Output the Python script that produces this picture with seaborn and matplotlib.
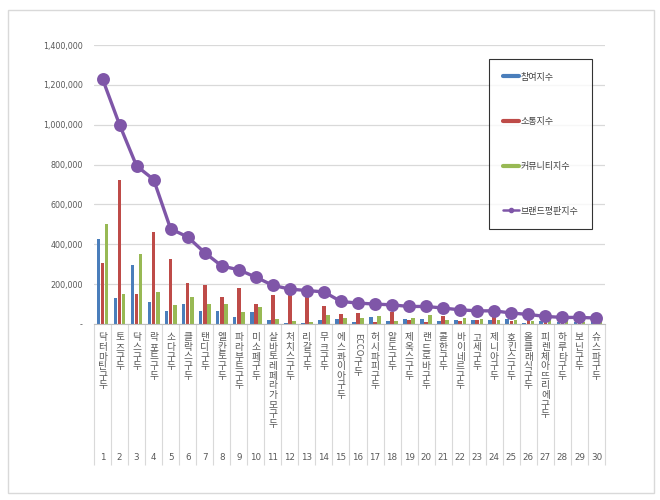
import matplotlib
matplotlib.use("Agg")
import matplotlib.pyplot as plt
import matplotlib.transforms as mtransforms
from matplotlib.lines import Line2D
from matplotlib.patches import Rectangle
import seaborn as sns
import pandas as pd
import numpy as np

sns.set_theme(style="white")
plt.rcParams['font.family'] = ['Noto Sans CJK KR', 'DejaVu Sans']

brands = ["닥터마틴 구두", "토즈 구두", "닥스 구두", "락포트 구두", "소다 구두",
          "클락스 구두", "탠디 구두", "엘칸토 구두", "파라부트 구두", "미소페 구두",
          "살바토레페라가모 구두", "처치스 구두", "리갈 구두", "무크 구두", "에스콰이아 구두",
          "ECCO 구두", "허시파피 구두", "알도 구두", "제옥스 구두", "랜드로바 구두",
          "콜한 구두", "바이네르 구두", "고세 구두", "제니아 구두", "호킨스 구두",
          "올클래식 구두", "피렌체아뜨리에 구두", "하루타 구두", "보닌 구두", "슈스파 구두"]
ranks = [str(i) for i in range(1, 31)]

participation = [425000, 128000, 298000, 112000, 65000, 100000, 65000, 65000, 35000, 58000,
                 22000, 5000, 5000, 18000, 23000, 12000, 35000, 13000, 27000, 23000,
                 15000, 22000, 22000, 22000, 25000, 5000, 15000, 10000, 12000, 10000]
communication = [308000, 725000, 150000, 462000, 328000, 205000, 198000, 137000, 180000, 98000,
                 148000, 160000, 158000, 88000, 52000, 57000, 12000, 62000, 20000, 8000,
                 38000, 17000, 18000, 33000, 17000, 33000, 10000, 10000, 8000, 8000]
community = [500000, 150000, 350000, 160000, 95000, 133000, 98000, 98000, 60000, 85000,
             24000, 13000, 10000, 47000, 30000, 30000, 42000, 13000, 30000, 47000,
             22000, 28000, 25000, 18000, 22000, 17000, 20000, 15000, 12000, 12000]
brand_index = [1230000, 1000000, 793000, 725000, 477000, 437000, 358000, 291000, 272000, 235000,
               194000, 175000, 168000, 161000, 113000, 105000, 100000, 96000, 88000, 88000,
               80000, 71000, 66000, 66000, 55000, 48000, 38000, 33000, 33000, 30000]

series_names = ["참여지수", "소통지수", "커뮤니티지수", "브랜드평판지수"]
colors = ["#4A7EBB", "#BE4B48", "#98B954", "#7F56A8"]


def stack(s):
    return "\n".join(ch for ch in s if ch != " ")


df = pd.DataFrame({
    "brand": brands * 3,
    "series": [series_names[0]] * 30 + [series_names[1]] * 30 + [series_names[2]] * 30,
    "value": participation + communication + community,
})

fig = plt.figure(figsize=(6.6, 5.0), dpi=100)
fig.patches.append(Rectangle((8 / 660, 1 - 493 / 500), 646 / 660, 483 / 500,
                             transform=fig.transFigure, fill=False,
                             edgecolor="#D9D9D9", linewidth=1.0))
ax = fig.add_axes([94 / 660, 1 - 324 / 500, 511 / 660, 279 / 500])

sns.barplot(data=df, x="brand", y="value", hue="series", order=brands,
            hue_order=series_names[:3], palette=colors[:3], width=0.72,
            gap=0.12, ax=ax, legend=False, saturation=1, edgecolor="none")

sns.pointplot(x=brands, y=brand_index, order=brands, color=colors[3], ax=ax,
              markers="o", markersize=7.5, linewidth=2.4, errorbar=None)

ax.set_ylim(0, 1400000)
ax.set_xlim(-0.5, 29.5)
yt = np.arange(0, 1400001, 200000)
ax.set_yticks(yt)
ax.set_yticklabels(["-" if v == 0 else f"{v:,}" for v in yt], fontsize=5.8,
                   color="#595959", family=["DejaVu Sans"])
ax.yaxis.grid(True, color="#D9D9D9", linewidth=0.9)
ax.set_axisbelow(True)
ax.tick_params(axis="y", length=0, pad=8)

trans = mtransforms.blended_transform_factory(ax.transData, ax.transAxes)

ticklabels = []
for i, b in enumerate(brands):
    first, _, rest = b.partition(" ")
    if first.isascii():
        ticklabels.append("")
        ax.text(i, -(333 - 324) / 279, first, transform=trans, rotation=-90,
                ha="center", va="top", fontsize=6.5, color="#595959")
        ax.text(i, -(357 - 324) / 279, stack(rest), transform=trans,
                ha="center", va="top", fontsize=7, color="#595959", linespacing=0.95)
    else:
        ticklabels.append(stack(b))
ax.set_xticks(range(30))
ax.set_xticklabels(ticklabels, fontsize=7, color="#595959", linespacing=0.95, va="top")
ax.tick_params(axis="x", length=0, pad=6)
ax.set_xlabel("")
ax.set_ylabel("")

for sp in ["top", "right", "left"]:
    ax.spines[sp].set_visible(False)
ax.spines["bottom"].set_color("#BFBFBF")
ax.spines["bottom"].set_linewidth(0.8)

ax.vlines(np.arange(-0.5, 30, 1), -0.505, 0, transform=trans, colors="#D9D9D9",
          linewidth=0.8, clip_on=False)
for i, r in enumerate(ranks):
    ax.text(i, -(457 - 324) / 279, r, transform=trans, ha="center", va="center",
            fontsize=6.3, color="#595959", family=["DejaVu Sans"])

handles = [Line2D([], [], color=colors[0], linewidth=3),
           Line2D([], [], color=colors[1], linewidth=3),
           Line2D([], [], color=colors[2], linewidth=3),
           Line2D([], [], color=colors[3], linewidth=1.8, marker="o", markersize=3)]
leg = ax.legend(handles, series_names, loc="upper left",
                bbox_to_anchor=((489 - 94) / 511, (324 - 59) / 279),
                frameon=True, fancybox=False, edgecolor="#000000",
                fontsize=6.5, labelspacing=3.95, handlelength=1.8, handletextpad=0.2,
                borderpad=1.5, borderaxespad=0)
leg.get_frame().set_linewidth(0.8)
for t in leg.get_texts():
    t.set_color("#404040")

fig.savefig("out.png", dpi=100, facecolor="white")
